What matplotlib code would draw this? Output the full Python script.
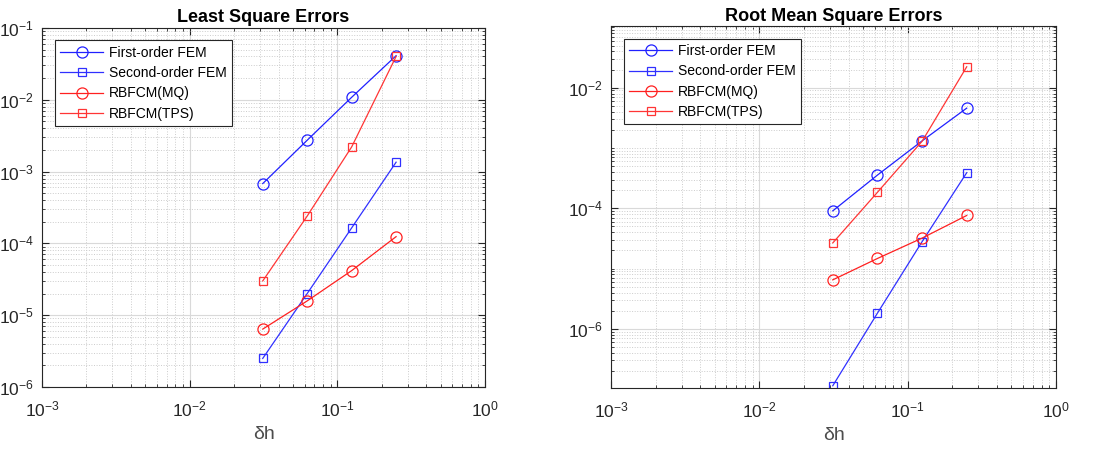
import numpy as np
import matplotlib.pyplot as plt
from matplotlib.ticker import FixedLocator, LogFormatterSciNotation, NullFormatter

plt.rcParams['font.family'] = ['Liberation Sans', 'DejaVu Sans']
plt.rcParams['mathtext.fontset'] = 'custom'
plt.rcParams['mathtext.rm'] = 'Liberation Sans'

# Mesh sizes
h = [1/32, 1/16, 1/8, 1/4]

# Least square errors
lse_fem1 = [6.8e-4, 2.73e-3, 1.08e-2, 4.1e-2]
lse_fem2 = [2.5e-6, 2.0e-5, 1.64e-4, 1.35e-3]
lse_mq = [6.4e-6, 1.58e-5, 4.17e-5, 1.24e-4]
lse_tps = [3.0e-5, 2.4e-4, 2.2e-3, 4.0e-2]

# Root mean square errors
rms_fem1 = [9.06e-5, 3.55e-4, 1.31e-3, 4.58e-3]
rms_fem2 = [1.14e-7, 1.82e-6, 2.79e-5, 3.89e-4]
rms_mq = [6.5e-6, 1.47e-5, 3.2e-5, 7.6e-5]
rms_tps = [2.66e-5, 1.84e-4, 1.29e-3, 2.22e-2]

labels = ['First-order FEM', 'Second-order FEM', 'RBFCM(MQ)', 'RBFCM(TPS)']

fig = plt.figure(figsize=(11.03, 4.5), dpi=100)
ax1 = fig.add_axes([0.0381, 0.14, 0.4016, 0.798])
ax2 = fig.add_axes([0.554, 0.138, 0.4034, 0.804])

ink = (0.15, 0.15, 0.15)


def draw(ax, series, title, ylim, yticks):
    styles = [('#2020ff', 'o', 8), ('#3030ff', 's', 6), ('#ff2020', 'o', 8), ('#ff3535', 's', 6)]
    for y, lab, (c, m, ms) in zip(series, labels, styles):
        ax.loglog(h, y, color=c, marker=m, markersize=ms, markerfacecolor='none',
                  markeredgewidth=0.9, linewidth=0.9, label=lab)
    ax.set_xlim(1e-3, 1)
    ax.set_ylim(*ylim)
    ax.xaxis.set_major_locator(FixedLocator([1e-3, 1e-2, 1e-1, 1]))
    ax.yaxis.set_major_locator(FixedLocator(yticks))
    xminor = [k * 10.0**e for e in range(-3, 0) for k in range(2, 10)]
    yminor = [k * 10.0**e for e in range(-8, 0) for k in range(1, 10)]
    yminor = [v for v in yminor if not any(abs(v - t) / t < 1e-6 for t in yticks)]
    ax.xaxis.set_minor_locator(FixedLocator(xminor))
    ax.yaxis.set_minor_locator(FixedLocator(yminor))
    ax.xaxis.set_major_formatter(LogFormatterSciNotation())
    ax.yaxis.set_major_formatter(LogFormatterSciNotation())
    ax.xaxis.set_minor_formatter(NullFormatter())
    ax.yaxis.set_minor_formatter(NullFormatter())
    ax.grid(True, which='major', color='#d9d9d9', linewidth=0.8, linestyle='-')
    ax.grid(True, which='minor', color='#cccccc', linewidth=0.7, linestyle=':')
    ax.set_axisbelow(True)
    ax.tick_params(which='both', direction='in', top=True, right=True, colors=ink,
                   labelsize=12.5, labelcolor=ink)
    ax.tick_params(which='major', length=5)
    ax.tick_params(which='minor', length=2.5)
    ax.tick_params(axis='x', which='major', pad=9)
    ax.tick_params(axis='y', which='major', pad=6)
    for s in ax.spines.values():
        s.set_color(ink)
        s.set_linewidth(0.8)
    ax.set_title(title, fontsize=13, fontweight='bold', pad=4)
    ax.set_xlabel('δh', fontsize=14, color=(0.3, 0.3, 0.3), labelpad=5)
    leg = ax.legend(loc='upper left', fontsize=10, handlelength=3.1, fancybox=False,
                    edgecolor=ink, framealpha=1, borderaxespad=0.9, labelspacing=0.45,
                    borderpad=0.4, handletextpad=0.4)
    leg.get_frame().set_linewidth(0.8)


draw(ax1, [lse_fem1, lse_fem2, lse_mq, lse_tps], 'Least Square Errors',
     (1e-6, 1e-1), [1e-6, 1e-5, 1e-4, 1e-3, 1e-2, 1e-1])
draw(ax2, [rms_fem1, rms_fem2, rms_mq, rms_tps], 'Root Mean Square Errors',
     (1.05e-7, 0.105), [1e-6, 1e-4, 1e-2])

plt.savefig('out.png', dpi=100)
